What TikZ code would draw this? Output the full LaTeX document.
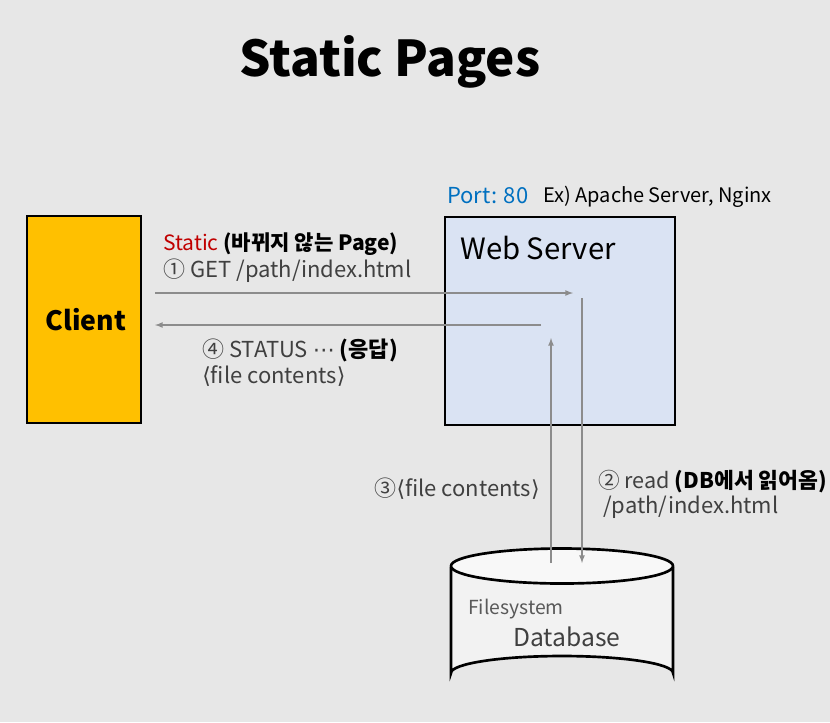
\documentclass[tikz,border=0pt]{standalone}
\usepackage{fontspec}
\setmainfont{Noto Sans CJK KR}
\newfontfamily\symfont{DejaVu Sans}
\usetikzlibrary{arrows,positioning,calc}
\definecolor{bgcol}{HTML}{E7E7E7}
\definecolor{clientcol}{HTML}{FFC000}
\definecolor{servercol}{HTML}{DAE3F3}
\definecolor{arrowcol}{HTML}{8C8C8C}
\definecolor{textgray}{HTML}{404040}
\definecolor{portblue}{HTML}{0070C0}
\definecolor{staticred}{HTML}{C00000}
\definecolor{dbbody}{HTML}{F2F2F2}
\definecolor{dbtop}{HTML}{F8F8F8}
\newcommand{\ang}[1]{{\symfont\char"27E8}#1{\symfont\char"27E9}}

\begin{document}
\begin{tikzpicture}[x=0.75pt,y=-0.75pt,
    txt/.style={anchor=west, inner sep=0pt, font=\fontsize{16.5}{19}\selectfont, text=textgray},
    box/.style={draw=black, line width=2pt, inner sep=0pt},
    flow/.style={draw=arrowcol, line width=1pt, -latex}]
      %background
      \fill[bgcol] (0,0) rectangle (830,722);
      \useasboundingbox (0,0) rectangle (830,722);
      %title
      \node[inner sep=0pt, font=\fontsize{37}{44}\bfseries] (title) at (390,62) {Static Pages};
      %boxes
      \node[box, fill=clientcol, minimum width=114*0.75pt, minimum height=207*0.75pt] (client) at (84,319.5) {};
      \node[font=\fontsize{20}{24}\bfseries, inner sep=0pt] (clienttxt) at (86,320) {Client};
      \node[box, fill=servercol, minimum width=230*0.75pt, minimum height=208*0.75pt] (server) at (560,321) {};
      \node[txt, text=black, font=\fontsize{22}{26}\selectfont] (servertxt) at (460,248) {Web Server};
      \node[txt, text=portblue, font=\fontsize{16.5}{19}\selectfont] (port) at (447,196) {Port: 80};
      \node[txt, text=black, font=\fontsize{15}{18}\selectfont] (examples) at (543,197) {Ex) Apache Server, Nginx};
      %database
      \fill[dbbody] (451,567) -- (451,673) arc[start angle=180, end angle=360, x radius=111, y radius=17] -- (673,567) -- cycle;
      \draw[line width=2pt] (451,567) -- (451,673) arc[start angle=180, end angle=360, x radius=111, y radius=17] -- (673,567);
      \draw[line width=2pt, fill=dbtop] (562,566) ellipse[x radius=111, y radius=17.5];
      \node[txt, text=black!65, font=\fontsize{14.5}{17}\selectfont] (fs) at (468,609) {Filesystem};
      \node[txt, font=\fontsize{18.5}{22}\selectfont] (db) at (513,637) {Database};
      %connector ends
      \coordinate (getS) at (155,293);
      \coordinate (getE) at (573,293);
      \coordinate (resS) at (541,325);
      \coordinate (resE) at (155,325);
      \coordinate (readS) at (582,298);
      \coordinate (readE) at (582,563);
      \coordinate (fileS) at (551,563);
      \coordinate (fileE) at (551,338);
      %edges
      \path [flow] (getS) to (getE);
      \path [flow] (resS) to (resE);
      \path [flow] (readS) to (readE);
      \path [flow] (fileS) to (fileE);
      %edge labels
      \node[txt, text=black, font=\fontsize{15.8}{19}\selectfont] (static) at (163,244) {\textcolor{staticred}{Static} \textbf{(바뀌지 않는 Page)}};
      \node[txt] (get) at (163,271) {① GET /path/index.html};
      \node[txt] (status) at (202,350) {④ STATUS {\symfont\char"22EF} \textcolor{black}{\textbf{(응답)}}};
      \node[txt] (contents) at (202,376) {\ang{file contents}};
      \node[txt, anchor=east] (dbfile) at (540,489) {③\ang{file contents}};
      \node[txt, font=\fontsize{16.2}{19}\selectfont] (read) at (598,482) {② read \textcolor{black}{\textbf{(DB에서 읽어옴)}}};
      \node[txt] (path) at (603,507) {/path/index.html};
    \end{tikzpicture}
\end{document}
